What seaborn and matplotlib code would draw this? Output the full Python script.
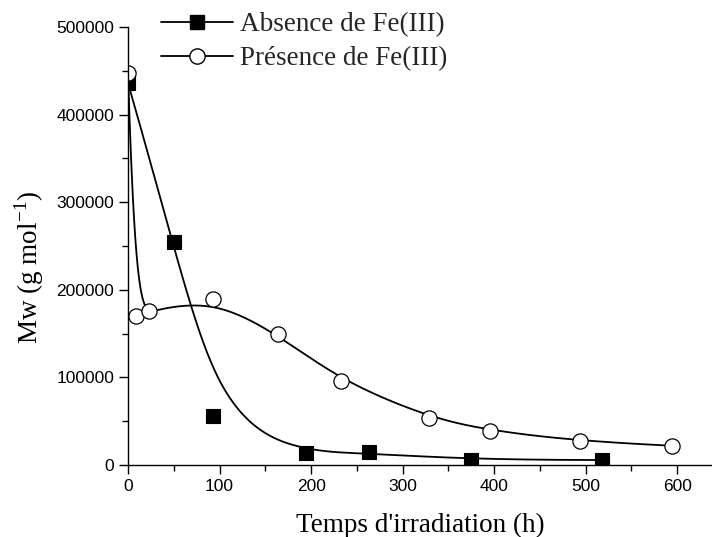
import numpy as np
import pandas as pd
import matplotlib
matplotlib.use("Agg")
import matplotlib.pyplot as plt
import seaborn as sns
from matplotlib.lines import Line2D
from matplotlib.ticker import MultipleLocator

# ---- data ----
absence_x = [0, 50, 93, 194, 263, 375, 518]
absence_y = [436000, 254000, 56000, 13300, 14500, 5700, 5700]
presence_x = [0, 8.4, 23, 92.5, 163.6, 232.8, 329, 395.6, 494, 594]
presence_y = [447800, 170100, 175800, 189100, 149200, 95900, 54200, 38800, 27000, 22000]
labels = ["Absence de Fe(III)", "Présence de Fe(III)"]
x_ticks = [0, 100, 200, 300, 400, 500, 600]
y_ticks = [0, 100000, 200000, 300000, 400000, 500000]


def bspline(px, py, degree=3, n=400):
    """Clamped uniform B-spline using the data points as control points."""
    P = np.column_stack([px, py]).astype(float)
    m = len(P)
    k = min(degree, m - 1)
    nseg = m - k
    knots = np.concatenate([np.zeros(k), np.arange(nseg + 1), np.full(k, nseg)]).astype(float)
    us = np.linspace(0, nseg, n)
    out = []
    for u in us:
        if u >= nseg:
            s = m - 1
        else:
            s = int(np.searchsorted(knots, u, side="right") - 1)
        d = [P[j + s - k].copy() for j in range(k + 1)]
        for r in range(1, k + 1):
            for j in range(k, r - 1, -1):
                i = j + s - k
                denom = knots[i + k - r + 1] - knots[i]
                a = 0.0 if denom == 0 else (u - knots[i]) / denom
                d[j] = (1 - a) * d[j - 1] + a * d[j]
        out.append(d[k])
    out = np.array(out)
    return out[:, 0], out[:, 1]


sns.set_style("ticks")
plt.rcParams["font.family"] = ["Liberation Sans", "DejaVu Sans"]

fig = plt.figure(figsize=(7.12, 5.37), dpi=100)
ax = fig.add_axes([128 / 712, 72 / 537, (712 - 128) / 712, (465 - 27) / 537])

ax_c = bspline(absence_x, absence_y)
pr_c = bspline(presence_x, presence_y)
df_a = pd.DataFrame({"x": ax_c[0], "y": ax_c[1]})
df_p = pd.DataFrame({"x": pr_c[0], "y": pr_c[1]})
sns.lineplot(data=df_a, x="x", y="y", sort=False, estimator=None, color="black", lw=1.3, ax=ax)
sns.lineplot(data=df_p, x="x", y="y", sort=False, estimator=None, color="black", lw=1.3, ax=ax)

pa = pd.DataFrame({"x": absence_x, "y": absence_y})
pp = pd.DataFrame({"x": presence_x, "y": presence_y})
sns.scatterplot(data=pa, x="x", y="y", marker="s", s=90, color="black", edgecolor="black", linewidth=0.8, ax=ax, zorder=3)
sns.scatterplot(data=pp, x="x", y="y", marker="o", s=120, color="white", edgecolor="black", linewidth=0.9, ax=ax, zorder=4)
for coll in ax.collections:
    coll.set_clip_on(True)
    coll.set_clip_path(ax.patch)

ax.set_xlim(0, 638)
ax.set_ylim(0, 500000)
ax.set_xticks(x_ticks)
ax.set_yticks(y_ticks)
ax.set_xticklabels([str(v) for v in x_ticks])
ax.set_yticklabels([str(v) for v in y_ticks])
ax.xaxis.set_minor_locator(MultipleLocator(50))
ax.yaxis.set_minor_locator(MultipleLocator(50000))
ax.tick_params(which="major", direction="out", length=6.5, width=1.0, labelsize=12.5, color="black", labelcolor="black")
ax.tick_params(which="minor", direction="out", length=4, width=1.0, color="black")
for side in ["top", "right"]:
    ax.spines[side].set_visible(False)
for side in ["left", "bottom"]:
    ax.spines[side].set_linewidth(1.0)
    ax.spines[side].set_color("black")
    ax.spines[side].set_zorder(5)

serif = ["Liberation Serif", "DejaVu Serif"]
ax.set_xlabel("Temps d'irradiation (h)", family=serif, fontsize=19.5, color="black", labelpad=14)
ax.set_ylabel(r"Mw (g mol$^{\mathregular{-1}}$)", family=serif, fontsize=19.5, color="black")
ax.yaxis.set_label_coords(-0.14, 0.45)

handles = [
    Line2D([], [], color="black", lw=1.3, marker="s", markersize=9.5, markerfacecolor="black", markeredgecolor="black"),
    Line2D([], [], color="black", lw=1.3, marker="o", markersize=11, markerfacecolor="white", markeredgecolor="black"),
]
fig.legend(handles, labels, loc="upper left", bbox_to_anchor=(161 / 712, 1 - 12 / 537), frameon=False,
           prop={"family": "Liberation Serif", "size": 19.5}, handlelength=2.67, handletextpad=0.26,
           labelspacing=0.34, borderpad=0, borderaxespad=0)

fig.savefig("out.png", dpi=100)
